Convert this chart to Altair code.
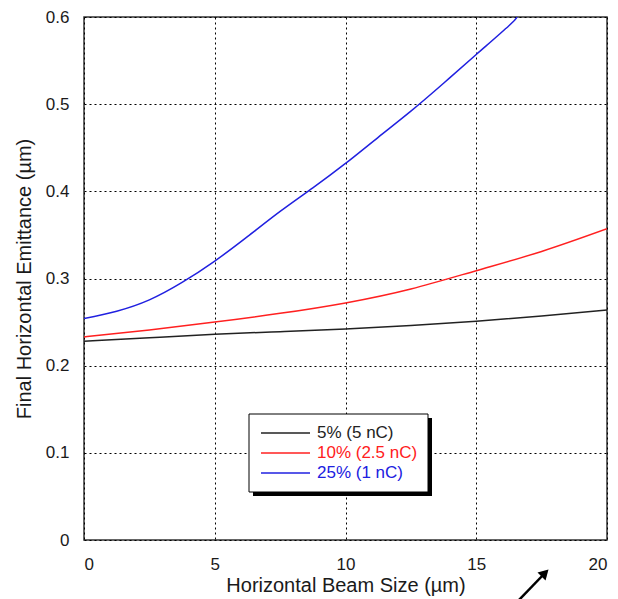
import altair as alt
import pandas as pd

# ---- data ----
x_black = [0, 2.5, 5, 7.5, 10, 12.5, 15, 17.5, 20]
y_black = [0.228, 0.232, 0.236, 0.239, 0.242, 0.246, 0.251, 0.257, 0.264]

x_red = [0, 2.5, 5, 7.5, 10, 12.5, 15, 17.5, 20]
y_red = [0.233, 0.241, 0.250, 0.260, 0.272, 0.288, 0.309, 0.331, 0.357]

x_blue = [0, 1.25, 2.5, 3.75, 5, 6.25, 7.5, 8.75, 10, 11.25, 12.5, 13.75, 15, 16.25, 16.56]
y_blue = [0.254, 0.2625, 0.2755, 0.2955, 0.320, 0.348, 0.377, 0.404, 0.432, 0.462,
          0.492, 0.524, 0.557, 0.590, 0.600]

series_names = ["5% (5 nC)", "10% (2.5 nC)", "25% (1 nC)"]
series_colors = ["#222222", "#ff2020", "#2020e0"]

x_ticks = [0, 5, 10, 15, 20]
y_ticks = [0, 0.1, 0.2, 0.3, 0.4, 0.5, 0.6]

rows = []
for name, xs, ys in zip(series_names, [x_black, x_red, x_blue], [y_black, y_red, y_blue]):
    for i, (xv, yv) in enumerate(zip(xs, ys)):
        rows.append({"series": name, "x": xv, "y": yv, "order": i})
df = pd.DataFrame(rows)

FONT = "Liberation Sans"
W, H = 523, 523

x_enc = alt.X("x:Q", scale=alt.Scale(domain=[0, 20], nice=False),
              axis=alt.Axis(values=x_ticks, title="Horizontal Beam Size (µm)",
                            labelPadding=16, titlePadding=3, format="d"))
y_enc = alt.Y("y:Q", scale=alt.Scale(domain=[0, 0.6], nice=False),
              axis=alt.Axis(values=y_ticks, title="Final Horizontal Emittance (µm)",
                            labelPadding=15, titlePadding=11,
                            labelExpr="datum.value == 0 ? '0' : format(datum.value, '.1f')"))

lines = alt.Chart(df).mark_line(strokeWidth=1.5, clip=True, interpolate="natural").encode(
    x=x_enc, y=y_enc,
    color=alt.Color("series:N", scale=alt.Scale(domain=series_names, range=series_colors), legend=None),
    detail="series:N",
    order="order:Q",
)

# ---- manual legend box (layout only) ----
lx0, ly0, lx1, ly1 = 165, 397, 344, 475
shadow = alt.Chart(df.head(1)).mark_rect(fill="black").encode(
    x=alt.value(lx0 + 4), x2=alt.value(lx1 + 4), y=alt.value(ly0 + 4), y2=alt.value(ly1 + 4))
box = alt.Chart(df.head(1)).mark_rect(fill="white", stroke="black", strokeWidth=1).encode(
    x=alt.value(lx0), x2=alt.value(lx1), y=alt.value(ly0), y2=alt.value(ly1))

legend_layers = []
row_y = [416, 436, 456]
for name, col, ry in zip(series_names, series_colors, row_y):
    legend_layers.append(
        alt.Chart(df.head(1)).mark_rule(color=col, strokeWidth=1.5).encode(
            x=alt.value(177), x2=alt.value(226), y=alt.value(ry)))
    legend_layers.append(
        alt.Chart(df.head(1)).mark_text(text=name, color=col, font=FONT, fontSize=17,
                                        align="left", baseline="middle").encode(
            x=alt.value(233), y=alt.value(ry)))

# ---- arrow annotation below the axis ----
arrow_line = alt.Chart(df.head(1)).mark_rule(color="black", strokeWidth=2.5).encode(
    x=alt.value(434), x2=alt.value(461), y=alt.value(584), y2=alt.value(556))
arrow_head = alt.Chart(df.head(1)).mark_point(shape="triangle-up", filled=True, color="black",
                                              size=130, angle=45, opacity=1).encode(
    x=alt.value(461), y=alt.value(556))

chart = alt.layer(lines, shadow, box, *legend_layers, arrow_line, arrow_head).properties(
    width=W, height=H,
    autosize=alt.AutoSizeParams(type="none"),
    padding={"left": 84, "top": 17, "right": 11, "bottom": 59},
    background="white",
).configure_view(
    stroke="#333333", strokeWidth=1.5, clip=False
).configure_axis(
    domain=False, ticks=False,
    grid=True, gridColor="black", gridDash=[2, 3], gridWidth=1, gridOpacity=1,
    labelFont=FONT, labelFontSize=17, labelColor="#1a1a1a",
    titleFont=FONT, titleFontSize=20, titleColor="#1a1a1a", titleFontWeight="normal",
)

chart.save("out.html", embed_options={"renderer": "svg", "actions": False})
